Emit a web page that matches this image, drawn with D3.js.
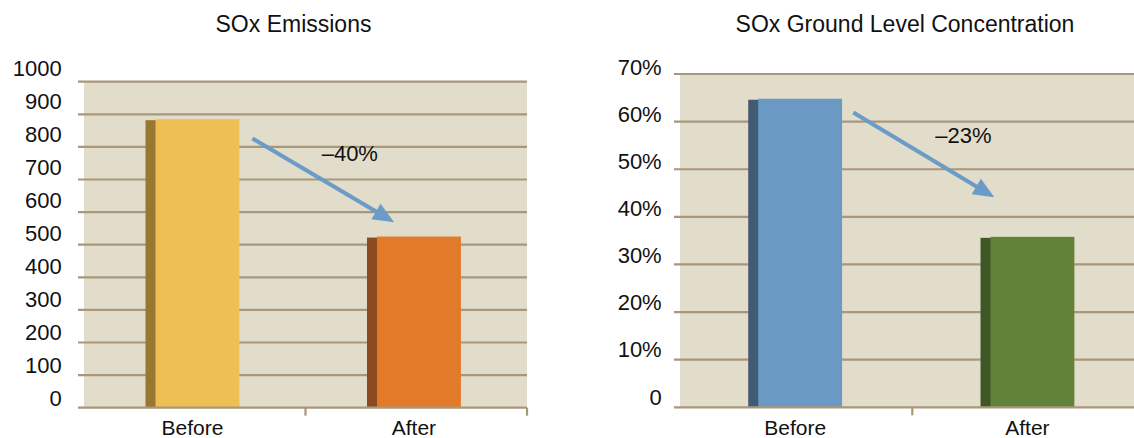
<!DOCTYPE html>
<html>
<head>
<meta charset="utf-8">
<script src="https://cdn.jsdelivr.net/npm/d3@7"></script>
<style>
  html, body { margin: 0; padding: 0; background: #ffffff; }
  svg { display: block; }
  text { font-family: "Liberation Sans", Arial, Helvetica, sans-serif; fill: #111; }
</style>
</head>
<body>
<svg id="chart" width="1134" height="438"></svg>
<script>
// ---- data ----
const categories = ["Before", "After"];

const emissionsValues = [885, 525];
const emissionsTicks = [0, 100, 200, 300, 400, 500, 600, 700, 800, 900, 1000];
const emissionsTickLabels = ["0", "100", "200", "300", "400", "500", "600", "700", "800", "900", "1000"];
const emissionsChange = "\u201340%";

const concentrationValues = [64.8, 35.8];
const concentrationTicks = [0, 10, 20, 30, 40, 50, 60, 70];
const concentrationTickLabels = ["0", "10%", "20%", "30%", "40%", "50%", "60%", "70%"];
const concentrationChange = "\u201323%";

// ---- styling ----
const plotBg = "#e2dccb";
const gridColor = "#a8977b";
const arrowColor = "#6b9bc7";
const emissionsFaces = ["#edbf55", "#e27a2a"];
const emissionsSides = ["#9a7731", "#8c4a20"];
const concentrationFaces = ["#6a9ac3", "#62823a"];
const concentrationSides = ["#425a72", "#3f5727"];

const svg = d3.select("#chart");

const panels = [
  {
    title: "SOx Emissions", titleX: 293.5,
    values: emissionsValues, ticks: emissionsTicks, tickLabels: emissionsTickLabels,
    faces: emissionsFaces, sides: emissionsSides,
    domain: [0, 1000],
    left: 84, right: 527, top: 81.7, bottom: 407.7,
    labelX: 61.7, labelShift: [9.7, 13.4],
    barFrac: 0.424, barShift: -2.3,
    arrow: { from: ["Before", 0.76, 826], to: ["After", 0.40, 569] },
    change: emissionsChange, changeAt: ["After", 0.2, 757]
  },
  {
    title: "SOx Ground Level Concentration", titleX: 905,
    values: concentrationValues, ticks: concentrationTicks, tickLabels: concentrationTickLabels,
    faces: concentrationFaces, sides: concentrationSides,
    domain: [0, 70],
    left: 680, right: 1144.6, top: 74, bottom: 407.3,
    labelX: 661.7, labelShift: [10.6, 7.3],
    barFrac: 0.404, barShift: -1,
    arrow: { from: ["Before", 0.746, 61.9], to: ["After", 0.353, 44.1] },
    change: concentrationChange, changeAt: ["After", 0.22, 55.5]
  }
];

panels.forEach(p => {
  const g = svg.append("g");

  const x = d3.scaleBand().domain(categories).range([p.left, p.right]).padding(0);
  const y = d3.scaleLinear().domain(p.domain).range([p.bottom, p.top]);
  // tick labels sit slightly above their gridlines
  const yLabel = d3.scaleLinear().domain(p.domain)
    .range([p.bottom - p.labelShift[0], p.top - p.labelShift[1]]);

  // title
  g.append("text")
    .attr("x", p.titleX).attr("y", 32)
    .attr("text-anchor", "middle")
    .attr("font-size", 23)
    .text(p.title);

  // plot background
  g.append("rect")
    .attr("x", p.left).attr("y", y(p.domain[1]))
    .attr("width", p.right - p.left)
    .attr("height", y(p.domain[0]) - y(p.domain[1]))
    .attr("fill", plotBg);

  // horizontal gridlines
  g.selectAll("line.grid")
    .data(p.ticks.slice(1))
    .join("line")
    .attr("class", "grid")
    .attr("x1", p.left - 6).attr("x2", p.right)
    .attr("y1", d => y(d)).attr("y2", d => y(d))
    .attr("stroke", gridColor).attr("stroke-width", 2.2);

  // value axis labels
  g.selectAll("text.ytick")
    .data(p.ticks)
    .join("text")
    .attr("class", "ytick")
    .attr("x", p.labelX)
    .attr("y", d => yLabel(d))
    .attr("dy", "0.36em")
    .attr("text-anchor", "end")
    .attr("font-size", 22)
    .text((d, i) => p.tickLabels[i]);

  // bars: darker left side + front face
  const barW = x.bandwidth() * p.barFrac;
  const sideW = 10;
  const barX = c => x(c) + x.bandwidth() / 2 - barW / 2 + p.barShift;
  const bars = g.selectAll("g.bar")
    .data(categories.map((c, i) => ({ c, v: p.values[i], i })))
    .join("g").attr("class", "bar");

  bars.append("rect")
    .attr("x", d => barX(d.c))
    .attr("y", d => y(d.v) + 1)
    .attr("width", sideW + 1)
    .attr("height", d => y(0) - y(d.v) - 1)
    .attr("fill", d => p.sides[d.i]);

  bars.append("rect")
    .attr("x", d => barX(d.c) + sideW)
    .attr("y", d => y(d.v))
    .attr("width", barW - sideW)
    .attr("height", d => y(0) - y(d.v))
    .attr("fill", d => p.faces[d.i]);

  // category axis line and ticks
  g.append("line")
    .attr("x1", p.left - 6).attr("x2", p.right)
    .attr("y1", y(0)).attr("y2", y(0))
    .attr("stroke", gridColor).attr("stroke-width", 2.2);

  g.selectAll("line.xtick")
    .data(categories)
    .join("line")
    .attr("class", "xtick")
    .attr("x1", d => x(d) + x.bandwidth()).attr("x2", d => x(d) + x.bandwidth())
    .attr("y1", y(0)).attr("y2", y(0) + 8)
    .attr("stroke", gridColor).attr("stroke-width", 2.2);

  g.selectAll("text.xlabel")
    .data(categories)
    .join("text")
    .attr("class", "xlabel")
    .attr("x", d => barX(d) + barW / 2)
    .attr("y", 435)
    .attr("text-anchor", "middle")
    .attr("font-size", 21)
    .text(d => d);

  // change arrow
  const px = a => x(a[0]) + x.bandwidth() * a[1];
  const x1 = px(p.arrow.from), y1 = y(p.arrow.from[2]);
  const x2 = px(p.arrow.to), y2 = y(p.arrow.to[2]);
  const len = Math.hypot(x2 - x1, y2 - y1);
  const ux = (x2 - x1) / len, uy = (y2 - y1) / len;
  const headL = 21, headW = 9;
  const bx = x2 - ux * headL, by = y2 - uy * headL;

  g.append("line")
    .attr("x1", x1).attr("y1", y1)
    .attr("x2", bx + ux * 2).attr("y2", by + uy * 2)
    .attr("stroke", arrowColor).attr("stroke-width", 4);

  g.append("polygon")
    .attr("points", [
      [x2, y2],
      [bx - uy * headW, by + ux * headW],
      [bx + uy * headW, by - ux * headW]
    ].map(q => q.join(",")).join(" "))
    .attr("fill", arrowColor);

  g.append("text")
    .attr("x", px(p.changeAt))
    .attr("y", y(p.changeAt[2]))
    .attr("text-anchor", "middle")
    .attr("font-size", 22)
    .text(p.change);
});
</script>
</body>
</html>
